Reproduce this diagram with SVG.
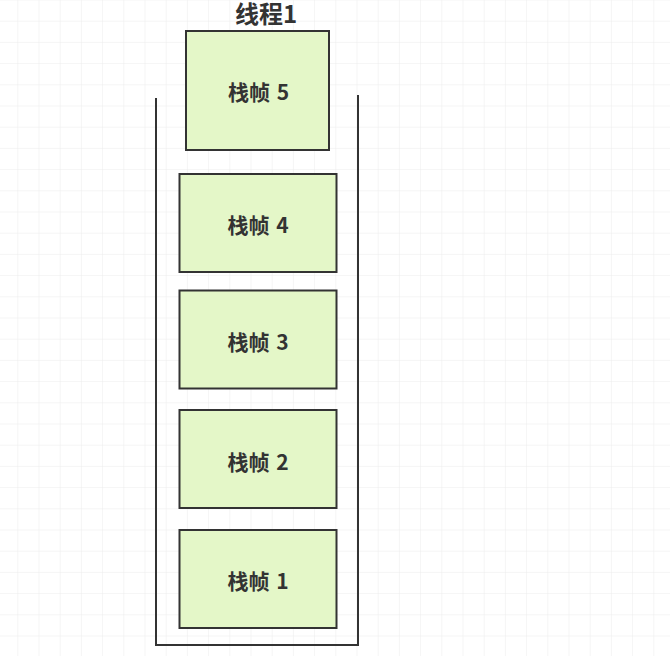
<svg xmlns="http://www.w3.org/2000/svg" width="670" height="656" viewBox="0 0 670 656">
<style>
.frame rect{fill:#e4f7c8;stroke:#333;stroke-width:2}
.lbl{font-family:"Noto Sans CJK SC","Liberation Sans",sans-serif;font-weight:bold;font-size:21px;word-spacing:2px;fill:#333;text-anchor:middle;dominant-baseline:central}
.title{font-family:"Noto Sans CJK SC","Liberation Sans",sans-serif;font-weight:bold;font-size:24px;fill:#333;text-anchor:middle}
.wall{fill:none;stroke:#333;stroke-width:2}
</style>
<defs>
<pattern id="grid" x="17.3" y="20.7" width="21.2" height="21.2" patternUnits="userSpaceOnUse">
<path d="M0 0H21.2M0 0V21.2" fill="none" stroke="#ececec" stroke-width="1"/>
</pattern>
</defs>
<rect width="670" height="656" fill="#fff"/>
<rect width="670" height="656" fill="url(#grid)"/>
<text class="title" x="266" y="23">线程1</text>
<g id="connectors">
<path id="stack" class="wall" d="M156 98V645H358V95"/>
</g>
<g id="frame5" class="frame"><rect x="186" y="31" width="143" height="119"/><text class="lbl" x="258.5" y="91">栈帧 5</text></g>
<g id="frame4" class="frame"><rect x="179.5" y="174" width="157" height="98"/><text class="lbl" x="258" y="224">栈帧 4</text></g>
<g id="frame3" class="frame"><rect x="179.5" y="290.5" width="157" height="98"/><text class="lbl" x="258" y="341">栈帧 3</text></g>
<g id="frame2" class="frame"><rect x="179.5" y="410" width="157" height="98"/><text class="lbl" x="258" y="461">栈帧 2</text></g>
<g id="frame1" class="frame"><rect x="179.5" y="530" width="157" height="98"/><text class="lbl" x="258" y="580">栈帧 1</text></g>
</svg>
